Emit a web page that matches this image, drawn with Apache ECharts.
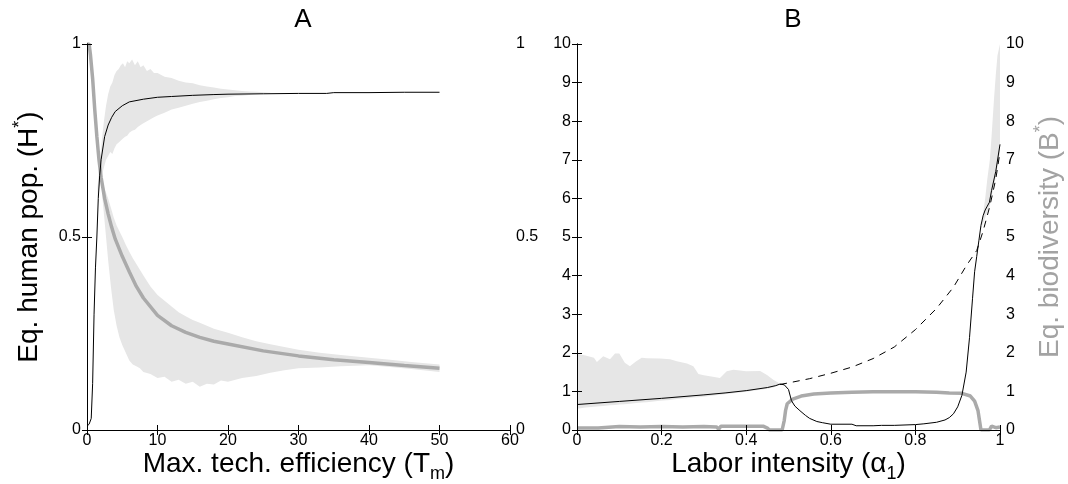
<!DOCTYPE html>
<html>
<head>
<meta charset="utf-8">
<script src="https://cdn.jsdelivr.net/npm/echarts@6/dist/echarts.min.js"></script>
<style>
  html, body { margin: 0; padding: 0; background: #fff; }
  #chart { width: 1068px; height: 484px; }
</style>
</head>
<body>
<div id="chart"></div>
<script>
// ---- Panel A: max. tech. efficiency ----
var aHX = [0, 0.3, 0.6, 0.8, 1.0, 1.2, 1.4, 1.6, 1.8, 2.0, 2.5, 3.0, 3.5, 4.0, 5.0, 6.0, 8.0, 10, 12, 15, 18, 20, 25, 30, 34, 35, 40, 45, 50];
var aH = [0.01, 0.015, 0.03, 0.12, 0.3, 0.42, 0.5, 0.6, 0.66, 0.7, 0.76, 0.79, 0.81, 0.825, 0.84, 0.85, 0.857, 0.862, 0.864, 0.867, 0.869, 0.87, 0.871, 0.872, 0.872, 0.874, 0.874, 0.875, 0.875];
var aBX = [0, 0.3, 0.5, 0.8, 1.1, 1.4, 1.7, 2.0, 2.5, 3.0, 3.5, 4.0, 5.0, 6.0, 7.0, 8.0, 10, 12, 14, 16, 18, 20, 25, 30, 35, 40, 45, 50];
var aB = [1.0, 1.0, 0.97, 0.91, 0.83, 0.76, 0.7, 0.655, 0.6, 0.56, 0.525, 0.495, 0.45, 0.41, 0.372, 0.342, 0.297, 0.27, 0.253, 0.24, 0.23, 0.223, 0.205, 0.192, 0.182, 0.175, 0.167, 0.16];

// spread of H* across runs
var aHBandX = [1.5, 1.8, 2.1, 2.4, 2.7, 3.0, 3.3, 3.6, 3.9, 4.2, 4.5, 4.8, 5.1, 5.4, 5.7, 6.0, 6.4, 6.8, 7.2, 7.6, 8.0, 8.5, 9.0, 9.5, 10, 11, 12, 13, 14, 15, 16, 17, 18, 19, 20, 21, 22, 23, 24, 25, 26];
var aHBandHi = [0.63, 0.69, 0.75, 0.8, 0.84, 0.87, 0.89, 0.9, 0.92, 0.93, 0.935, 0.945, 0.95, 0.94, 0.955, 0.95, 0.96, 0.945, 0.955, 0.94, 0.945, 0.93, 0.935, 0.925, 0.925, 0.915, 0.912, 0.905, 0.9, 0.898, 0.893, 0.89, 0.887, 0.884, 0.882, 0.88, 0.878, 0.877, 0.876, 0.875, 0.874];
var aHBandLo = [0.6, 0.63, 0.66, 0.68, 0.7, 0.71, 0.72, 0.715, 0.73, 0.74, 0.745, 0.75, 0.755, 0.76, 0.762, 0.77, 0.775, 0.778, 0.785, 0.79, 0.795, 0.8, 0.805, 0.81, 0.815, 0.822, 0.83, 0.835, 0.84, 0.845, 0.85, 0.853, 0.857, 0.86, 0.862, 0.865, 0.866, 0.868, 0.87, 0.871, 0.872];

// spread of B* across runs
var aBBandX = [2.2, 2.6, 3.0, 3.4, 3.8, 4.2, 4.6, 5.0, 5.5, 6.0, 6.5, 7.0, 7.5, 8.0, 9.0, 10, 11, 12, 13, 14, 15, 16, 17, 18, 19, 20, 22, 24, 26, 28, 30, 33, 36, 40, 43, 46, 50];
var aBBandHi = [0.64, 0.62, 0.6, 0.575, 0.55, 0.53, 0.515, 0.5, 0.48, 0.462, 0.445, 0.43, 0.415, 0.4, 0.372, 0.35, 0.335, 0.32, 0.305, 0.295, 0.285, 0.278, 0.27, 0.262, 0.257, 0.252, 0.24, 0.23, 0.222, 0.215, 0.208, 0.2, 0.194, 0.187, 0.182, 0.176, 0.17];
var aBBandLo = [0.6, 0.52, 0.44, 0.37, 0.31, 0.27, 0.24, 0.22, 0.2, 0.18, 0.17, 0.165, 0.16, 0.15, 0.145, 0.135, 0.138, 0.125, 0.13, 0.12, 0.125, 0.112, 0.12, 0.118, 0.128, 0.125, 0.135, 0.14, 0.148, 0.155, 0.16, 0.162, 0.165, 0.168, 0.163, 0.158, 0.15];

// ---- Panel B: labor intensity ----
var bHX = [0, 0.1, 0.2, 0.3, 0.35, 0.4, 0.45, 0.47, 0.48, 0.49, 0.5, 0.507, 0.515, 0.527, 0.54, 0.55, 0.567, 0.58, 0.6, 0.65, 0.66, 0.7, 0.72, 0.75, 0.8, 0.82, 0.85, 0.87, 0.88, 0.89, 0.9, 0.91, 0.92, 0.928, 0.935, 0.94, 0.945, 0.95, 0.955, 0.96, 0.965, 0.97, 0.975, 0.98, 0.99, 1.0];
var bH = [0.66, 0.74, 0.82, 0.91, 0.96, 1.02, 1.1, 1.15, 1.19, 1.17, 1.05, 0.76, 0.62, 0.5, 0.38, 0.3, 0.22, 0.19, 0.15, 0.15, 0.11, 0.11, 0.12, 0.12, 0.14, 0.16, 0.2, 0.26, 0.32, 0.42, 0.6, 0.9, 1.5, 2.4, 3.4, 4.1, 4.5, 4.9, 5.3, 5.55, 5.7, 5.8, 5.9, 6.2, 6.7, 7.4];
var bDashX = [0.48, 0.5, 0.55, 0.6, 0.65, 0.7, 0.75, 0.8, 0.85, 0.89, 0.92, 0.945, 0.96, 0.976, 0.99, 1.0];
var bDash = [1.18, 1.22, 1.33, 1.47, 1.63, 1.85, 2.15, 2.6, 3.15, 3.7, 4.25, 4.65, 5.15, 5.8, 6.5, 7.2];
var bBX = [0, 0.05, 0.1, 0.15, 0.2, 0.25, 0.3, 0.33, 0.335, 0.34, 0.4, 0.44, 0.45, 0.455, 0.485, 0.49, 0.493, 0.497, 0.51, 0.53, 0.56, 0.6, 0.65, 0.7, 0.8, 0.85, 0.88, 0.91, 0.93, 0.94, 0.948, 0.955, 0.975, 0.98, 0.99, 1.0];
var bB = [0.05, 0.05, 0.09, 0.08, 0.09, 0.08, 0.09, 0.08, 0.02, 0.1, 0.1, 0.1, 0.05, 0.0, 0.0, 0.25, 0.5, 0.68, 0.8, 0.88, 0.93, 0.96, 0.98, 0.99, 0.99, 0.98, 0.96, 0.95, 0.88, 0.75, 0.5, 0.0, 0.0, 0.1, 0.06, 0.08];

var bLBandX = [0, 0.02, 0.04, 0.047, 0.062, 0.078, 0.09, 0.1, 0.113, 0.125, 0.14, 0.153, 0.165, 0.196, 0.22, 0.236, 0.26, 0.275, 0.287, 0.3, 0.314, 0.338, 0.354, 0.37, 0.4, 0.433, 0.45, 0.464, 0.48];
var bLBandHi = [1.97, 1.93, 1.87, 1.76, 1.91, 1.83, 1.98, 1.98, 1.74, 1.65, 1.78, 1.87, 1.86, 1.85, 1.83, 1.78, 1.72, 1.65, 1.45, 1.42, 1.39, 1.35, 1.52, 1.56, 1.52, 1.53, 1.42, 1.3, 1.2];
var bLBandLo = [0.55, 0.58, 0.6, 0.61, 0.62, 0.64, 0.65, 0.66, 0.67, 0.68, 0.7, 0.71, 0.72, 0.76, 0.78, 0.8, 0.82, 0.84, 0.85, 0.86, 0.88, 0.91, 0.93, 0.95, 0.99, 1.04, 1.07, 1.1, 1.18];
var bRBandX = [0.955, 0.96, 0.965, 0.97, 0.976, 0.98, 0.986, 0.99, 0.994, 1.0];
var bRBandHi = [5.2, 5.6, 6.0, 6.5, 7.0, 7.6, 8.6, 9.2, 9.7, 10];
var bRBandLo = [5.2, 5.35, 5.5, 5.65, 5.8, 6.05, 6.35, 6.55, 6.8, 7.2];

var aTicksX = { min: 0, max: 60, interval: 10 };
var aTicksY = { min: 0, max: 1, interval: 0.5 };
var bTicksX = { min: 0, max: 1, interval: 0.2 };
var bTicksY = { min: 0, max: 10, interval: 1 };

(function() {
  var font = 'Liberation Sans, Arial, Helvetica, sans-serif';
  var ink = '#000';
  var grey = '#aaaaaa';
  var bandFill = '#e6e6e6';
  var nameGrey = '#a3a3a3';

  function pairs(xs, ys) {
    return xs.map(function(x, i) { return [x, ys[i]]; });
  }

  // filled min-max envelope drawn as one polygon through the axes
  function band(xs, lo, hi, xi, yi) {
    return {
      type: 'custom',
      xAxisIndex: xi,
      yAxisIndex: yi,
      silent: true,
      z: 1,
      data: [[xs[0], lo[0]]],
      renderItem: function(params, api) {
        var pts = [];
        for (var i = 0; i < xs.length; i++) pts.push(api.coord([xs[i], hi[i]]));
        for (var j = xs.length - 1; j >= 0; j--) pts.push(api.coord([xs[j], lo[j]]));
        return { type: 'polygon', shape: { points: pts }, style: { fill: bandFill, stroke: null } };
      }
    };
  }

  function line(xs, ys, xi, yi, color, width, dashed) {
    return {
      type: 'line',
      xAxisIndex: xi,
      yAxisIndex: yi,
      data: pairs(xs, ys),
      showSymbol: false,
      symbol: 'none',
      z: dashed ? 3 : (width > 2 ? 2 : 4),
      lineStyle: { color: color, width: width, type: dashed ? [7, 6] : 'solid' },
      silent: true
    };
  }

  var tick = { inside: true, length: 5, lineStyle: { color: ink, width: 1 } };
  var axLine = { show: true, lineStyle: { color: ink, width: 1 } };
  var lab = { color: ink, fontSize: 16, fontFamily: font, margin: 6 };
  var nameStyle = {
    color: ink, fontSize: 28, fontFamily: font,
    rich: {
      sub: { fontSize: 18, fontFamily: font, color: ink, padding: [20, 0, 0, 0], lineHeight: 18 },
      sup: { fontSize: 18, fontFamily: font, color: ink, padding: [0, 0, 18, 0], lineHeight: 18 }
    }
  };
  var nameStyleGrey = {
    color: nameGrey, fontSize: 28, fontFamily: font,
    rich: {
      sup: { fontSize: 18, fontFamily: font, color: nameGrey, padding: [0, 0, 18, 0], lineHeight: 18 }
    }
  };

  function xAx(grid, t, pos, name) {
    return {
      type: 'value', gridIndex: grid, position: pos, min: t.min, max: t.max, interval: t.interval, z: 6,
      axisLine: axLine, axisTick: tick, splitLine: { show: false },
      axisLabel: pos === 'bottom' ? { color: ink, fontSize: 16, fontFamily: font, margin: 3 } : { show: false },
      name: name || '', nameLocation: 'middle', nameGap: 20, nameMoveOverlap: false, nameTextStyle: nameStyle
    };
  }
  function yAx(grid, t, pos, name, style, gap) {
    return {
      type: 'value', gridIndex: grid, position: pos, min: t.min, max: t.max, interval: t.interval, z: 6,
      axisLine: axLine, axisTick: tick, splitLine: { show: false },
      axisLabel: lab,
      name: name || '', nameLocation: 'middle', nameGap: gap || 0, nameMoveOverlap: false, nameTextStyle: style || nameStyle
    };
  }

  var chart = echarts.init(document.getElementById('chart'), null, { renderer: 'canvas' });
  chart.setOption({
    animation: false,
    backgroundColor: '#fff',
    title: [
      { text: 'A', left: 298, top: 2, textAlign: 'center', textStyle: { color: ink, fontSize: 26, fontWeight: 'normal', fontFamily: font } },
      { text: 'B', left: 788, top: 2, textAlign: 'center', textStyle: { color: ink, fontSize: 26, fontWeight: 'normal', fontFamily: font } }
    ],
    grid: [
      { left: 87, top: 44, width: 423, height: 386, outerBoundsMode: 'none', containLabel: false },
      { left: 577, top: 44, width: 423, height: 386, outerBoundsMode: 'none', containLabel: false }
    ],
    xAxis: [
      xAx(0, aTicksX, 'bottom', 'Max. tech. efficiency (T{sub|m})'),
      xAx(0, aTicksX, 'top'),
      xAx(1, bTicksX, 'bottom', 'Labor intensity (\u03b1{sub|1})'),
      xAx(1, bTicksX, 'top')
    ],
    yAxis: [
      yAx(0, aTicksY, 'left', 'Eq. human pop. (H{sup|*})', nameStyle, 44),
      yAx(0, aTicksY, 'right'),
      yAx(1, bTicksY, 'left'),
      yAx(1, bTicksY, 'right', 'Eq. biodiversity (B{sup|*})', nameStyleGrey, 36)
    ],
    series: [
      band(aHBandX, aHBandLo, aHBandHi, 0, 0),
      band(aBBandX, aBBandLo, aBBandHi, 0, 1),
      line(aBX, aB, 0, 1, grey, 3.5, false),
      line(aHX, aH, 0, 0, ink, 1, false),
      band(bLBandX, bLBandLo, bLBandHi, 2, 2),
      band(bRBandX, bRBandLo, bRBandHi, 2, 2),
      line(bBX, bB, 2, 3, grey, 3.5, false),
      line(bDashX, bDash, 2, 2, ink, 1, true),
      line(bHX, bH, 2, 2, ink, 1, false)
    ]
  });
  window.addEventListener('resize', function() { chart.resize(); });
})();
</script>
</body>
</html>
